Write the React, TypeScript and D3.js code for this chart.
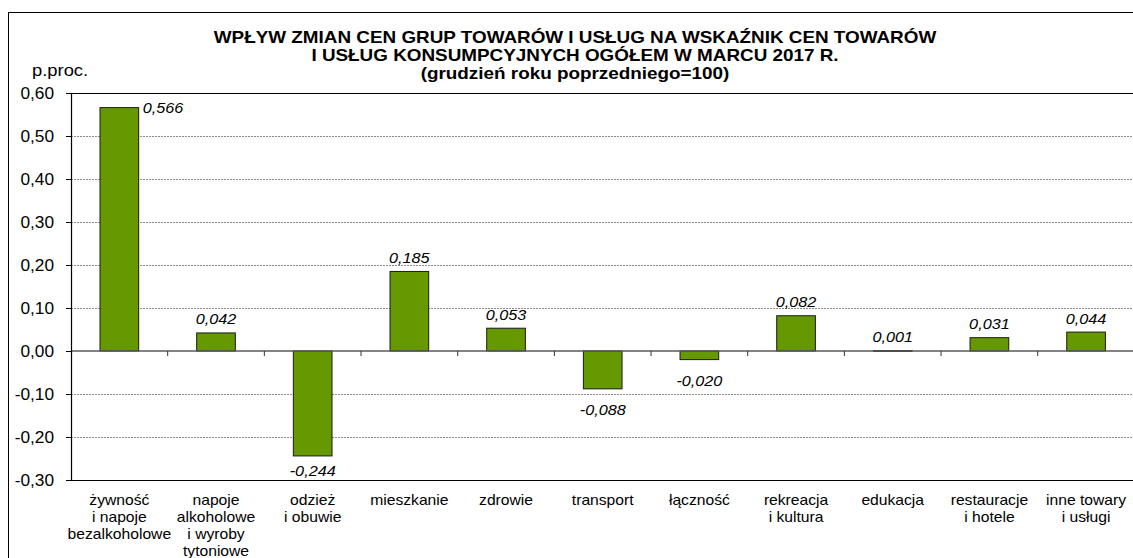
import React from "react";
import * as d3 from "d3";

// kategorie (wiersze etykiety osi X)
const categories: string[][] = [
  ["żywność", "i napoje", "bezalkoholowe"],
  ["napoje", "alkoholowe", "i wyroby", "tytoniowe"],
  ["odzież", "i obuwie"],
  ["mieszkanie"],
  ["zdrowie"],
  ["transport"],
  ["łączność"],
  ["rekreacja", "i kultura"],
  ["edukacja"],
  ["restauracje", "i hotele"],
  ["inne towary", "i usługi"],
];
const values: number[] = [0.566, 0.042, -0.244, 0.185, 0.053, -0.088, -0.02, 0.082, 0.001, 0.031, 0.044];
const yTicks: number[] = [-0.3, -0.2, -0.1, 0, 0.1, 0.2, 0.3, 0.4, 0.5, 0.6];
const titleLines: string[] = [
  "WPŁYW ZMIAN CEN GRUP TOWARÓW I USŁUG NA WSKAŹNIK CEN TOWARÓW",
  "I USŁUG KONSUMPCYJNYCH OGÓŁEM W MARCU 2017 R.",
  "(grudzień roku poprzedniego=100)",
];
const unitLabel = "p.proc.";

const W = 1133;
const H = 558;
const FONT = "'Liberation Sans', Arial, sans-serif";
const SX = 1.08; // tekst w oryginale jest lekko rozciągnięty w poziomie

const plot = { left: 71, right: 1134.4, top: 93, bottom: 480 };

const fmt = (v: number, d: number) => v.toFixed(d).replace(".", ",");

const T: React.FC<{ x: number; y: number; sx?: number; size: number; anchor?: string; bold?: boolean; italic?: boolean; children: React.ReactNode }> = ({
  x, y, sx = SX, size, anchor = "middle", bold, italic, children,
}) => (
  <text
    transform={`translate(${x},${y}) scale(${sx},1)`}
    fontSize={size}
    textAnchor={anchor}
    fontWeight={bold ? "bold" : "normal"}
    fontStyle={italic ? "italic" : "normal"}
    fill="#000"
  >
    {children}
  </text>
);

export default function App() {
  const x = d3
    .scaleBand<number>()
    .domain(d3.range(categories.length))
    .range([plot.left, plot.right])
    .paddingInner(0.6)
    .paddingOuter(0.3);
  const y = d3.scaleLinear().domain([-0.3, 0.6]).range([plot.bottom, plot.top]);
  const step = x.step();
  const y0 = y(0);

  return (
    <svg width={W} height={H} style={{ position: "absolute", left: 0, top: 0, background: "#fff" }} fontFamily={FONT}>
      {/* ramka wykresu */}
      <rect x={8.5} y={12.5} width={W + 10} height={H + 10} fill="none" stroke="#000" strokeWidth={1} />

      {/* tytuł */}
      {titleLines.map((t, i) => (
        <T key={i} x={575} y={42.5 + i * 18.2} size={16} sx={1.18} bold>
          {t}
        </T>
      ))}
      <T x={32} y={76} size={17} sx={1.08} anchor="start">
        {unitLabel}
      </T>

      {/* linie siatki */}
      {yTicks
        .filter((t) => t !== 0 && t > -0.3 && t < 0.6)
        .map((t) => (
          <line key={t} x1={plot.left} x2={W} y1={Math.round(y(t)) + 0.5} y2={Math.round(y(t)) + 0.5} stroke="#8c8c8c" strokeDasharray="2,1" />
        ))}
      <line x1={plot.left} x2={W} y1={plot.top + 0.5} y2={plot.top + 0.5} stroke="#000" strokeWidth={1.2} />
      <line x1={plot.left} x2={W} y1={plot.bottom + 0.5} y2={plot.bottom + 0.5} stroke="#000" strokeWidth={1.2} />

      {/* słupki */}
      {values.map((v, i) => {
        const top = y(Math.max(0, v));
        const bot = y(Math.min(0, v));
        return (
          <rect key={i} x={x(i)!} y={top} width={x.bandwidth()} height={Math.max(0.8, bot - top)} fill="#669900" stroke="#1a1a1a" strokeWidth={1} />
        );
      })}

      {/* oś zero */}
      <line x1={plot.left} x2={W} y1={y0} y2={y0} stroke="#5a5a5a" strokeWidth={1.5} />
      {d3.range(1, categories.length + 1).map((k) => (
        <line key={k} x1={plot.left + k * step} x2={plot.left + k * step} y1={y0} y2={y0 + 5} stroke="#333" strokeWidth={1} />
      ))}

      {/* oś Y */}
      <line x1={plot.left + 0.5} x2={plot.left + 0.5} y1={plot.top} y2={plot.bottom} stroke="#000" strokeWidth={1.2} />
      {yTicks.map((t) => (
        <g key={t}>
          <line x1={plot.left - 5} x2={plot.left} y1={Math.round(y(t)) + 0.5} y2={Math.round(y(t)) + 0.5} stroke="#000" />
          <T x={54} y={y(t) + 6} size={16} anchor="end">
            {fmt(t, 2)}
          </T>
        </g>
      ))}

      {/* etykiety wartości */}
      {values.map((v, i) => {
        const cx = x(i)! + x.bandwidth() / 2;
        if (v >= 0) {
          const top = y(v);
          if (top - 22 < plot.top) {
            return (
              <T key={i} x={x(i)! + x.bandwidth() + 4} y={top + 5} size={15} anchor="start" italic>
                {fmt(v, 3)}
              </T>
            );
          }
          return (
            <T key={i} x={cx} y={top - 8.5} size={15} italic>
              {fmt(v, 3)}
            </T>
          );
        }
        const bot = y(v);
        return (
          <T key={i} x={cx} y={Math.min(bot + 26, plot.bottom - 4)} size={15} italic>
            {fmt(v, 3)}
          </T>
        );
      })}

      {/* etykiety kategorii */}
      {categories.map((lines, i) => {
        const cx = x(i)! + x.bandwidth() / 2;
        return lines.map((l, j) => (
          <T key={`${i}-${j}`} x={cx} y={504.5 + j * 17.3} size={14.5}>
            {l}
          </T>
        ));
      })}
    </svg>
  );
}
